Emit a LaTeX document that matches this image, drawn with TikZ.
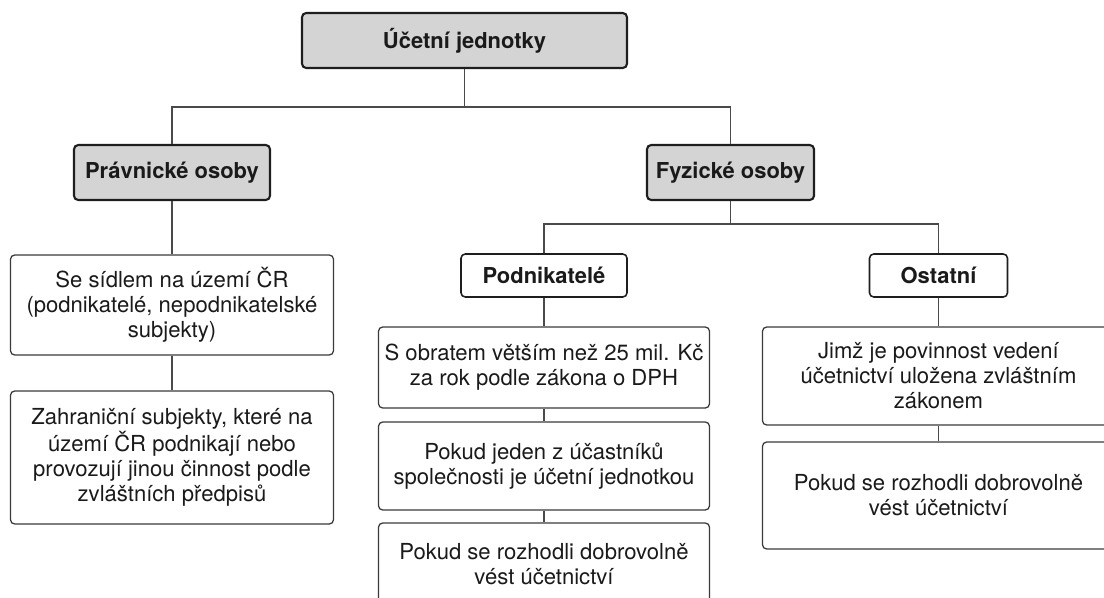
\documentclass[tikz,border=0pt]{standalone}
\usepackage{fontspec}
\setmainfont{TeX Gyre Heros}
\usetikzlibrary{positioning}
\definecolor{headF}{HTML}{D4D4D4}
\definecolor{headD}{HTML}{1E1E1E}
\definecolor{itemD}{HTML}{3A3A3A}
\definecolor{lineC}{HTML}{4A4A4A}
\definecolor{txtC}{HTML}{1A1A1A}
\newdimen\px \px=0.025cm
\tikzset{
  box/.style={rounded corners=3pt, draw=itemD, line width=0.9pt, fill=white, align=center,
              inner sep=0pt, text=txtC, font=\fontsize{15.7}{17.8}\selectfont},
  head/.style={box, fill=headF, draw=headD, line width=1.5pt, minimum height=55\px,
               font=\fontsize{15.6}{17.8}\selectfont\bfseries},
  sub/.style={box, line width=1.1pt, draw=headD, minimum height=43\px,
              font=\fontsize{15.6}{17.8}\selectfont\bfseries},
  conn/.style={draw=lineC, line width=0.9pt},
}
\begin{document}
\begin{tikzpicture}[x=1\px, y=-1\px]
\useasboundingbox (0,0) rectangle (1104,598);
\node[head, minimum width=325\px] (root) at (464.5,40.5) {Účetní jednotky};
\node[head, minimum width=196\px] (prav) at (172,172.5) {Právnické osoby};
\node[head, minimum width=167\px] (fyz) at (730.5,172.5) {Fyzické osoby};
\node[box, minimum width=323\px, minimum height=100\px] (sidlo) at (172,305) {Se sídlem na území ČR\\(podnikatelé, nepodnikatelské\\subjekty)};
\node[box, minimum width=323\px, minimum height=133\px] (zahr) at (172,457.5) {Zahraniční subjekty, které na\\území ČR podnikají nebo\\provozují jinou činnost podle\\zvláštních předpisů};
\node[sub, minimum width=166\px] (podn) at (544,275.5) {Podnikatelé};
\node[sub, minimum width=138\px] (ost) at (938.5,275.5) {Ostatní};
\node[box, minimum width=331\px, minimum height=81\px] (obrat) at (544,367.5) {S obratem větším než 25 mil. Kč\\za rok podle zákona o DPH};
\node[box, minimum width=331\px, minimum height=88\px] (ucast) at (544,466) {Pokud jeden z účastníků\\společnosti je účetní jednotkou};
\node[box, minimum width=331\px, minimum height=82\px] (dobrP) at (544,564) {Pokud se rozhodli dobrovolně\\vést účetnictví};
\node[box, minimum width=352\px, minimum height=98\px] (zakon) at (938.5,376) {Jimž je povinnost vedení\\účetnictví uložena zvláštním\\zákonem};
\node[box, minimum width=352\px, minimum height=107\px] (dobrO) at (938.5,495.5) {Pokud se rozhodli dobrovolně\\vést účetnictví};
\coordinate (busA) at (464.5,107);
\coordinate (busB) at (730.5,224);
\draw[conn] (root) -- (busA);
\draw[conn] (prav.north) |- (busA) -| (fyz.north);
\draw[conn] (fyz) -- (busB);
\draw[conn] (podn.north) |- (busB) -| (ost.north);
\draw[conn] (prav) -- (sidlo);
\draw[conn] (sidlo) -- (zahr);
\draw[conn] (podn) -- (obrat);
\draw[conn] (obrat) -- (ucast);
\draw[conn] (ucast) -- (dobrP);
\draw[conn] (ost) -- (zakon);
\draw[conn] (zakon) -- (dobrO);
\end{tikzpicture}
\end{document}
